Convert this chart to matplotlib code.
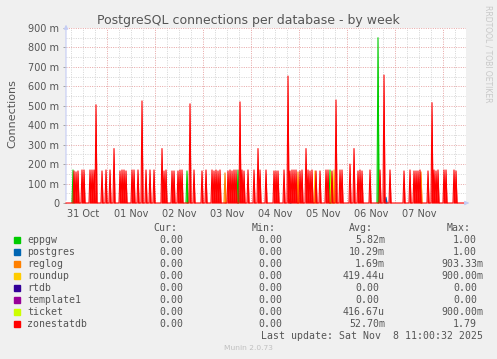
import numpy as np
import matplotlib
matplotlib.use("Agg")
import matplotlib.pyplot as plt
from matplotlib.patches import Rectangle

# ---------- data ----------
# hours counted from 31 Oct 00:00, sampled every 30 minutes
t_start, t_end = 3.5, 203.5
day_labels = ['31 Oct', '01 Nov', '02 Nov', '03 Nov', '04 Nov', '05 Nov', '06 Nov', '07 Nov']

zonestatdb_hours = [7.5, 8.5, 9.5, 11.5, 12.5, 15.5, 16.5, 17.5, 18.5, 21.5, 23.5, 25.5, 27.5,
                    30.5, 31.5, 32.5, 33.5, 36.5, 37.5, 39.5, 41.5, 43.5, 45.5, 47.5, 51.5, 52.5,
                    53.5, 56.5, 57.5, 59.5, 60.5, 61.5, 65.5, 67.5, 71.5, 73.5, 76.5, 77.5, 78.5,
                    79.5, 80.5, 84.5, 85.5, 86.5, 87.5, 88.5, 90.5, 91.5, 92.5, 94.5, 97.5, 99.5,
                    100.5, 103.5, 107.5, 108.5, 109.5, 112.5, 114.5, 115.5, 116.5, 117.5, 118.5,
                    120.5, 121.5, 123.5, 124.5, 125.5, 126.5, 128.5, 130.5, 133.5, 134.5, 136.5,
                    138.5, 140.5, 141.5, 145.5, 147.5, 149.5, 150.5, 151.5, 155.5, 160.5, 162.5,
                    165.5, 172.5, 175.5, 177.5, 178.5, 179.5, 180.5, 184.5, 186.5, 187.5, 188.5,
                    189.5, 192.5, 193.5, 197.5, 198.5]
zonestatdb_vals = [0.165, 0.16, 0.165, 0.17, 0.17, 0.17, 0.17, 0.17, 0.505, 0.165, 0.17, 0.17, 0.28,
                   0.165, 0.17, 0.17, 0.165, 0.17, 0.17, 0.17, 0.525, 0.17, 0.17, 0.17, 0.28, 0.165,
                   0.17, 0.165, 0.165, 0.165, 0.17, 0.17, 0.51, 0.17, 0.165, 0.17, 0.17, 0.165, 0.17,
                   0.165, 0.17, 0.165, 0.17, 0.165, 0.17, 0.17, 0.52, 0.17, 0.165, 0.17, 0.17, 0.28,
                   0.17, 0.17, 0.165, 0.165, 0.165, 0.17, 0.653, 0.165, 0.17, 0.17, 0.17,
                   0.165, 0.17, 0.28, 0.17, 0.165, 0.17, 0.165, 0.165, 0.17, 0.17, 0.165,
                   0.53, 0.17, 0.17, 0.2, 0.28, 0.165, 0.17, 0.165, 0.17, 0.17, 0.658,
                   0.17, 0.165, 0.17, 0.165, 0.165, 0.165, 0.17, 0.165, 0.516, 0.17, 0.165,
                   0.17, 0.17, 0.17, 0.17, 0.165]
eppgw_hours = [7.0, 64.0, 89.5, 135.5, 159.5]
eppgw_vals = [0.17, 0.165, 0.17, 0.17, 0.85]
postgres_hours = [115.5, 163.5]
postgres_vals = [0.02, 0.03]
reglog_hours = [83.0, 119.5, 181.0]
reglog_vals = [0.155, 0.16, 0.16]
roundup_hours = [128.0, 137.5]
roundup_vals = [0.165, 0.17]
ticket_hours = [136.0]
ticket_vals = [0.16]

names = ['eppgw', 'postgres', 'reglog', 'roundup', 'rtdb', 'template1', 'ticket', 'zonestatdb']
colors = ['#00CC00', '#0066B3', '#FF8000', '#FFCC00', '#330099', '#990099', '#CCFF00', '#FF0000']
cur = ['0.00', '0.00', '0.00', '0.00', '0.00', '0.00', '0.00', '0.00']
mins = ['0.00', '0.00', '0.00', '0.00', '0.00', '0.00', '0.00', '0.00']
avgs = ['5.82m', '10.29m', '1.69m', '419.44u', '0.00', '0.00', '416.67u', '52.70m']
maxs = ['1.00', '1.00', '903.33m', '900.00m', '0.00', '0.00', '900.00m', '1.79']

t = np.arange(t_start, t_end + 0.01, 0.5)


def series(hours, vals):
    y = np.zeros_like(t)
    for h, v in zip(hours, vals):
        y[int(round((h - t_start) * 2))] = v
    return y


data = {
    'eppgw': series(eppgw_hours, eppgw_vals),
    'postgres': series(postgres_hours, postgres_vals),
    'reglog': series(reglog_hours, reglog_vals),
    'roundup': series(roundup_hours, roundup_vals),
    'rtdb': series([], []),
    'template1': series([], []),
    'ticket': series(ticket_hours, ticket_vals),
    'zonestatdb': series(zonestatdb_hours, zonestatdb_vals),
}

# ---------- figure ----------
W, H = 497, 359
txt = '#555555'
fig = plt.figure(figsize=(W / 100, H / 100), dpi=100, facecolor='#F0F0F0')


def fx(x):
    return x / W


def fy(y):
    return 1 - y / H


ax = fig.add_axes([fx(66), fy(203), fx(400), 175 / H])
ax.set_facecolor('white')
ax.set_xlim(t_start, t_end)
ax.set_ylim(0, 0.9)
for s in ax.spines.values():
    s.set_visible(False)

# grid
for yv in np.arange(0.05, 0.91, 0.05):
    major = abs(yv * 10 - round(yv * 10)) < 1e-6
    ax.axhline(yv, color='#e6a3a3' if major else '#d4d4d4', lw=0.7,
               ls=(0, (1, 1.4)), zorder=1)
for xv in np.arange(6, t_end, 6):
    major = xv % 24 == 0
    ax.axvline(xv, color='#e6a3a3' if major else '#d4d4d4', lw=0.7,
               ls=(0, (1, 1.4)), zorder=1)

for name, c in zip(names, colors):
    y = data[name]
    ax.fill_between(t, 0, y, color=c, lw=0, zorder=3)
    if name == 'zonestatdb':
        ax.plot(t, y, color=c, lw=0.8, zorder=4, clip_on=False)
    else:
        # only draw the outline around the spikes, not along the zero line
        keep = (y > 0) | (np.roll(y, 1) > 0) | (np.roll(y, -1) > 0)
        ax.plot(t, np.ma.masked_where(~keep, y), color=c, lw=0.8, zorder=3)

ax.set_yticks(np.arange(0, 0.91, 0.1))
ax.set_yticklabels(['0'] + ['%d m' % round(v * 1000) for v in np.arange(0.1, 0.91, 0.1)])
ax.set_xticks(12 + 24 * np.arange(len(day_labels)))
ax.set_xticklabels(day_labels)
ax.tick_params(axis='y', length=2, width=0.6, color='#999999', pad=3, labelsize=7, labelcolor=txt)
ax.tick_params(axis='x', length=0, pad=4, labelsize=7, labelcolor=txt)

# axis arrows
ax.annotate('', xy=(0, 1.035), xytext=(0, 0), xycoords='axes fraction',
            arrowprops=dict(arrowstyle='-|>', color='#c4ccf4', lw=0.8,
                            mutation_scale=6), annotation_clip=False, zorder=5)
ax.annotate('', xy=(1.015, 0), xytext=(0.995, 0), xycoords='axes fraction',
            arrowprops=dict(arrowstyle='-|>', color='#c4ccf4', lw=0.8,
                            mutation_scale=6), annotation_clip=False, zorder=5)

# titles
fig.text(fx(248), fy(24), 'PostgreSQL connections per database - by week',
         ha='center', va='baseline', fontsize=9, color=txt)
fig.text(fx(12), fy(114), 'Connections', rotation=90, ha='center', va='center',
         fontsize=8, color=txt)
fig.text(fx(488), fy(5), 'RRDTOOL / TOBI OETIKER', rotation=270, ha='center', va='top',
         fontsize=5.5, color='#c8c8c8')

# legend table
mono = 'DejaVu Sans Mono'
fs = 7.1
cw = 6.0
col_right = [189, 288, 385, 483]
headers = ['Cur:', 'Min:', 'Avg:', 'Max:']
for xr, hd in zip(col_right, headers):
    fig.text(fx(xr - 2 * cw), fy(230.7), hd, ha='right', va='baseline',
             family=mono, fontsize=fs, color=txt)

base = 243.3
for i, name in enumerate(names):
    yb = base + 12 * i
    fig.patches.append(Rectangle((fx(14), fy(yb - 0.5)), fx(6), 6 / H,
                                 transform=fig.transFigure, color=colors[i]))
    fig.text(fx(27), fy(yb), name, ha='left', va='baseline',
             family=mono, fontsize=fs, color=txt)
    for xr, val in zip(col_right, [cur[i], mins[i], avgs[i], maxs[i]]):
        off = 0 if val[-1].isalpha() else cw
        fig.text(fx(xr - off), fy(yb), val, ha='right', va='baseline',
                 family=mono, fontsize=fs, color=txt)

fig.text(fx(483), fy(339), 'Last update: Sat Nov  8 11:00:32 2025', ha='right',
         va='baseline', family=mono, fontsize=fs, color=txt)
fig.text(fx(248), fy(348), 'Munin 2.0.73', ha='center', va='center',
         fontsize=5.4, color='#c0c0c0')

fig.savefig('out.png', dpi=100, facecolor=fig.get_facecolor())
